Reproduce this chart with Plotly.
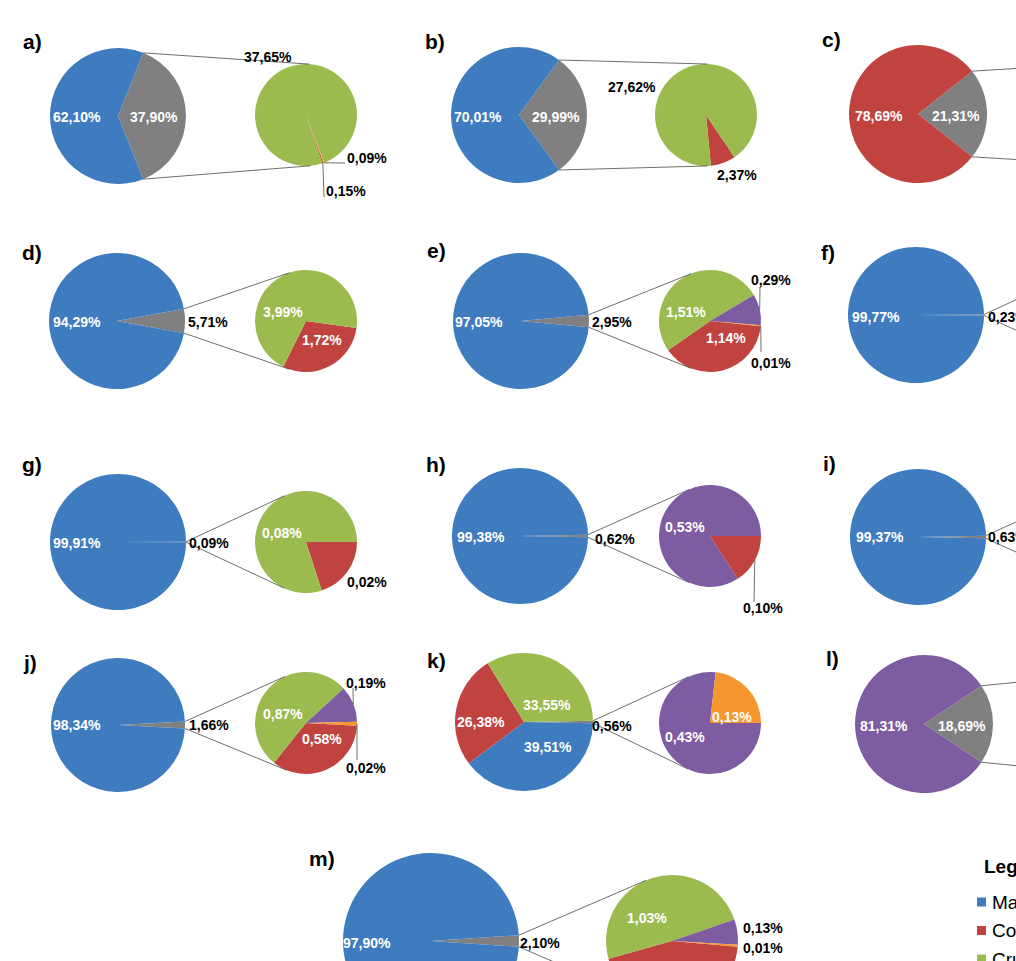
import math
import plotly.graph_objects as go

# Canvas is larger than the 1016x961 view: the reference is cropped at right/bottom
W, H = 1200, 1040

# ---------------- DATA ----------------
CAT_KEYS = ["Ma", "Co", "Cr", "Pu", "Or", "Ot"]
CAT_NAMES = {"Ma": "Marine", "Co": "Coastal", "Cr": "Crustacea",
             "Pu": "Category 4", "Or": "Category 5", "Ot": "Others"}
COLORS = {"Ma": "#3F7CBF", "Co": "#C0433F", "Cr": "#9BBB4F",
          "Pu": "#7D5CA2", "Or": "#F5962F", "Ot": "#808080"}

PANELS = ["a", "b", "c", "d", "e", "f", "g", "h", "i", "j", "k", "l", "m"]

# Main pie values (%) in order Ma, Co, Cr, Pu, Or, Ot
MAIN_A = [62.10, 0, 0, 0, 0, 37.90]
MAIN_B = [70.01, 0, 0, 0, 0, 29.99]
MAIN_C = [0, 78.69, 0, 0, 0, 21.31]
MAIN_D = [94.29, 0, 0, 0, 0, 5.71]
MAIN_E = [97.05, 0, 0, 0, 0, 2.95]
MAIN_F = [99.77, 0, 0, 0, 0, 0.23]
MAIN_G = [99.91, 0, 0, 0, 0, 0.09]
MAIN_H = [99.38, 0, 0, 0, 0, 0.62]
MAIN_I = [99.37, 0, 0, 0, 0, 0.63]
MAIN_J = [98.34, 0, 0, 0, 0, 1.66]
MAIN_K = [39.51, 26.38, 33.55, 0, 0, 0.56]
MAIN_L = [0, 0, 0, 81.31, 0, 18.69]
MAIN_M = [97.90, 0, 0, 0, 0, 2.10]

# Secondary pie values (%) in order Co, Cr, Pu, Or
SEC_KEYS = ["Co", "Cr", "Pu", "Or"]
SEC_A = [0.15, 37.65, 0, 0.09]
SEC_B = [2.37, 27.62, 0, 0]
SEC_D = [1.72, 3.99, 0, 0]
SEC_E = [1.14, 1.51, 0.29, 0.01]
SEC_G = [0.02, 0.08, 0, 0]
SEC_H = [0.10, 0, 0.53, 0]
SEC_J = [0.58, 0.87, 0.19, 0.02]
SEC_K = [0, 0, 0.43, 0.13]
SEC_M = [0.93, 1.03, 0.13, 0.01]

MAIN = {"a": MAIN_A, "b": MAIN_B, "c": MAIN_C, "d": MAIN_D, "e": MAIN_E,
        "f": MAIN_F, "g": MAIN_G, "h": MAIN_H, "i": MAIN_I, "j": MAIN_J,
        "k": MAIN_K, "l": MAIN_L, "m": MAIN_M}
SEC = {"a": SEC_A, "b": SEC_B, "d": SEC_D, "e": SEC_E, "g": SEC_G,
       "h": SEC_H, "j": SEC_J, "k": SEC_K, "m": SEC_M}

LEGEND_TITLE = "Legend"
LEGEND_KEYS = ["Ma", "Co", "Cr"]

# ---------------- LAYOUT (pixels) ----------------
# main=(cx, cy, r), sec=(cx, cy, r), rot = start angle of the secondary pie, letter = (x, y)
GEOM = {
    "a": dict(main=(118, 116, 68), sec=(306, 115, 51), rot=160, letter=(32, 42)),
    "b": dict(main=(519, 115, 68), sec=(706, 115, 51), rot=146, letter=(435, 42)),
    "c": dict(main=(918, 114, 69), sec=(1106, 114, 51), rot=90, letter=(831, 40)),
    "d": dict(main=(117, 321, 68), sec=(306, 321, 51), rot=98, letter=(32, 252)),
    "e": dict(main=(521, 321, 68), sec=(710, 321, 51), rot=96, letter=(436, 250)),
    "f": dict(main=(916, 315, 68), sec=(1105, 315, 51), rot=90, letter=(828, 252)),
    "g": dict(main=(118, 542, 68), sec=(306, 542, 51), rot=90, letter=(32, 465)),
    "h": dict(main=(520, 536, 68), sec=(710, 536, 51), rot=90, letter=(436, 465)),
    "i": dict(main=(918, 537, 68), sec=(1106, 537, 51), rot=90, letter=(829, 463)),
    "j": dict(main=(118, 725, 67), sec=(306, 723, 51), rot=93, letter=(30, 662)),
    "k": dict(main=(524, 722, 69), sec=(710, 723, 51), rot=90, letter=(436, 660)),
    "l": dict(main=(924, 724, 69), sec=(1112, 724, 51), rot=90, letter=(832, 658)),
    "m": dict(main=(431, 941, 88), sec=(672, 941, 66), rot=95, letter=(322, 858)),
}

# Label centres (pixels) - only the labels visible in the view
LABELS = {
    "a": {"main": {"Ma": (77, 117), "Ot": (154, 117)},
          "sec": {"Cr": (268, 57), "Or": (367, 158), "Co": (346, 191)}},
    "b": {"main": {"Ma": (478, 117), "Ot": (556, 117)},
          "sec": {"Cr": (632, 87), "Co": (737, 175)}},
    "c": {"main": {"Co": (879, 116), "Ot": (956, 116)}},
    "d": {"main": {"Ma": (77, 322), "Ot": (208, 322)},
          "sec": {"Cr": (283, 312), "Co": (322, 340)}},
    "e": {"main": {"Ma": (479, 322), "Ot": (612, 322)},
          "sec": {"Cr": (686, 312), "Co": (726, 338), "Pu": (771, 280), "Or": (771, 363)}},
    "f": {"main": {"Ma": (876, 317), "Ot": (1008, 317)}},
    "g": {"main": {"Ma": (77, 543), "Ot": (209, 543)},
          "sec": {"Cr": (282, 533), "Co": (367, 582)}},
    "h": {"main": {"Ma": (481, 537), "Ot": (615, 539)},
          "sec": {"Pu": (685, 527), "Co": (763, 608)}},
    "i": {"main": {"Ma": (880, 537), "Ot": (1008, 537)}},
    "j": {"main": {"Ma": (77, 725), "Ot": (209, 725)},
          "sec": {"Cr": (283, 714), "Co": (322, 739), "Pu": (366, 683), "Or": (366, 768)}},
    "k": {"main": {"Cr": (547, 705), "Co": (481, 722), "Ma": (548, 747), "Ot": (612, 726)},
          "sec": {"Or": (732, 717), "Pu": (685, 737)}},
    "l": {"main": {"Pu": (884, 726), "Ot": (962, 726)}},
    "m": {"main": {"Ma": (367, 943), "Ot": (540, 943)},
          "sec": {"Cr": (647, 918), "Pu": (763, 928), "Or": (763, 948)}},
}

# Leader line end points (start is the slice mid-point on the rim)
LEADERS = {
    ("a", "Or"): (345, 163), ("a", "Co"): (324, 197),
    ("e", "Pu"): (760, 287), ("e", "Or"): (761, 352),
    ("h", "Co"): (754, 602),
    ("j", "Pu"): (353, 688), ("j", "Or"): (357, 760),
}

LEGEND_POS = dict(title=(982, 866), x_sq=981.5, x_txt=990, y0=902, dy=28.5, sq=9)

FONT = "Arial, Liberation Sans, sans-serif"
LINE_COLOR = "#4a4a4a"


# ---------------- HELPERS ----------------
def px(x):
    return x / W


def py(y):
    return 1 - y / H


def fmt(v):
    return f"{v:.2f}".replace(".", ",") + "%"


def norm_rot(a):
    return ((a + 180) % 360) - 180


def rim(c, ang):
    cx, cy, r = c
    t = math.radians(ang)
    return (cx + r * math.sin(t), cy - r * math.cos(t))


def slice_angles(keys, vals, rot):
    tot = sum(vals)
    out = {}
    a = rot
    for k, v in zip(keys, vals):
        span = 360 * v / tot
        out[k] = (a, a + span)
        a += span
    return out


def tangent(P, C, upper):
    cx, cy, r = C
    vx, vy = P[0] - cx, P[1] - cy
    d = math.hypot(vx, vy)
    a = math.acos(min(1.0, r / d))
    base = math.atan2(vy, vx)
    pts = [(cx + r * math.cos(base + s * a), cy + r * math.sin(base + s * a)) for s in (1, -1)]
    return min(pts, key=lambda p: p[1]) if upper else max(pts, key=lambda p: p[1])


def domain(c):
    cx, cy, r = c
    return dict(x=[px(cx - r), px(cx + r)], y=[py(cy + r), py(cy - r)])


fig = go.Figure()
annotations = []
shapes = []


def add_label(text, pos, center):
    cx, cy, r = center
    inside = math.hypot(pos[0] - cx, pos[1] - cy) < r * 0.92
    annotations.append(dict(
        x=px(pos[0]), y=py(pos[1]), xref="paper", yref="paper",
        text=f"<b>{text}</b>", showarrow=False,
        xanchor="center", yanchor="middle",
        font=dict(family=FONT, size=14, color="white" if inside else "black")))


for p in PANELS:
    g = GEOM[p]
    mc = g["main"]
    mvals = MAIN[p]
    # main pie: "others" slice first, centred on 3 o'clock, the rest clockwise
    order = ["Ot"] + CAT_KEYS[:5]
    mk = [k for k in order if mvals[CAT_KEYS.index(k)] > 0]
    mv = [mvals[CAT_KEYS.index(k)] for k in mk]
    tot = sum(mv)
    gray = mvals[CAT_KEYS.index("Ot")]
    mrot = 90 - 180 * gray / tot
    fig.add_trace(go.Pie(
        labels=[CAT_NAMES[k] for k in mk], values=mv, sort=False,
        direction="clockwise", rotation=norm_rot(mrot),
        marker=dict(colors=[COLORS[k] for k in mk], line=dict(width=0)),
        textinfo="none", domain=domain(mc), showlegend=False,
        hovertemplate="%{label}: %{value}%<extra></extra>"))
    for k, pos in LABELS[p]["main"].items():
        add_label(fmt(mvals[CAT_KEYS.index(k)]), pos, mc)

    # connector lines from the "others" slice to the secondary pie
    half = 180 * gray / tot
    ptop = rim(mc, 90 - half)
    pbot = rim(mc, 90 + half)
    sc = g["sec"]
    for P, up in ((ptop, True), (pbot, False)):
        T = tangent(P, sc, up)
        shapes.append(dict(type="line", xref="paper", yref="paper",
                           x0=px(P[0]), y0=py(P[1]), x1=px(T[0]), y1=py(T[1]),
                           line=dict(color=LINE_COLOR, width=0.8)))

    # secondary pie
    if p in SEC:
        svals = SEC[p]
        sk = [k for k, v in zip(SEC_KEYS, svals) if v > 0]
        sv = [v for v in svals if v > 0]
        fig.add_trace(go.Pie(
            labels=[CAT_NAMES[k] for k in sk], values=sv, sort=False,
            direction="clockwise", rotation=norm_rot(g["rot"]),
            marker=dict(colors=[COLORS[k] for k in sk], line=dict(width=0)),
            textinfo="none", domain=domain(sc), showlegend=False,
            hovertemplate="%{label}: %{value}%<extra></extra>"))
        angs = slice_angles(sk, sv, g["rot"])
        for k, pos in LABELS[p].get("sec", {}).items():
            add_label(fmt(svals[SEC_KEYS.index(k)]), pos, sc)
            if (p, k) in LEADERS:
                a0, a1 = angs[k]
                S = rim(sc, (a0 + a1) / 2)
                E = LEADERS[(p, k)]
                shapes.append(dict(type="line", xref="paper", yref="paper",
                                   x0=px(S[0]), y0=py(S[1]), x1=px(E[0]), y1=py(E[1]),
                                   line=dict(color=LINE_COLOR, width=0.8)))

    # panel letter
    lx, ly = g["letter"]
    annotations.append(dict(x=px(lx), y=py(ly), xref="paper", yref="paper",
                            text=f"<b>{p})</b>", showarrow=False,
                            xanchor="center", yanchor="middle",
                            font=dict(family=FONT, size=21, color="black")))

# legend (drawn as text + colour squares)
tx, ty = LEGEND_POS["title"]
annotations.append(dict(x=px(tx), y=py(ty), xref="paper", yref="paper",
                        text=f"<b>{LEGEND_TITLE}</b>", showarrow=False,
                        xanchor="left", yanchor="middle",
                        font=dict(family=FONT, size=19, color="black")))
for i, k in enumerate(LEGEND_KEYS):
    yc = LEGEND_POS["y0"] + i * LEGEND_POS["dy"]
    s = LEGEND_POS["sq"] / 2
    xs = LEGEND_POS["x_sq"]
    shapes.append(dict(type="rect", xref="paper", yref="paper",
                       x0=px(xs - s), x1=px(xs + s), y0=py(yc + s), y1=py(yc - s),
                       fillcolor=COLORS[k], line=dict(width=0)))
    annotations.append(dict(x=px(LEGEND_POS["x_txt"]), y=py(yc), xref="paper", yref="paper",
                            text=CAT_NAMES[k], showarrow=False,
                            xanchor="left", yanchor="middle",
                            font=dict(family=FONT, size=19, color="black")))

fig.update_layout(
    width=W, height=H, autosize=False,
    margin=dict(l=0, r=0, t=0, b=0),
    paper_bgcolor="white", plot_bgcolor="white",
    annotations=annotations, shapes=shapes,
    showlegend=False,
)

fig.write_html(
    "out.html",
    config={"displayModeBar": False},
    post_script=("document.body.style.margin='0';"
                 "document.body.style.overflow='hidden';"
                 "document.documentElement.style.overflow='hidden';"),
)
